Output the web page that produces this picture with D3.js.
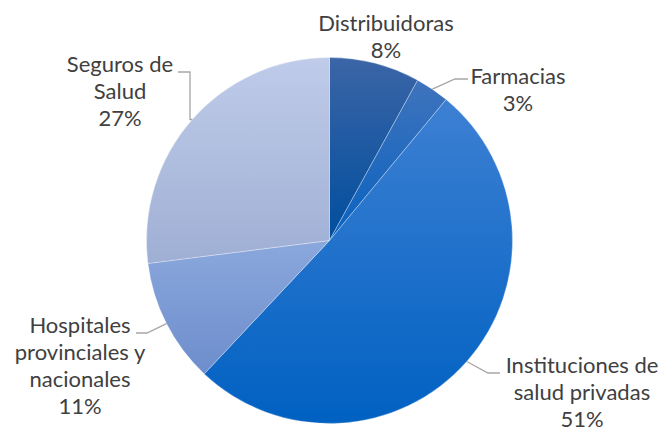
<!DOCTYPE html>
<html>
<head>
<meta charset="utf-8">
<script src="https://cdn.jsdelivr.net/npm/d3@7"></script>
<style>
html,body{margin:0;padding:0;background:#fff;}
svg{display:block;}
text{font-family:Lato,"Open Sans",sans-serif;fill:#404040;}
</style>
</head>
<body>
<svg id="chart" width="664" height="430"></svg>
<script>
// ---- data ----
const categories = ["Distribuidoras", "Farmacias", "Instituciones de salud privadas", "Hospitales provinciales y nacionales", "Seguros de Salud"];
const values = [8, 3, 51, 11, 27];
const labelLines = [
  ["Distribuidoras", "8%"],
  ["Farmacias", "3%"],
  ["Instituciones de", "salud privadas", "51%"],
  ["Hospitales", "provinciales y", "nacionales", "11%"],
  ["Seguros de", "Salud", "27%"]
];

// ---- style / layout ----
const colorsTop = ["#3b65a6", "#3f73bc", "#3d80d3", "#8ba8dd", "#bfcbe9"];
const colorsBottom = ["#004e9e", "#0862c0", "#0061c2", "#6d8dcc", "#9fafd4"];
const cx = 329.5, cy = 240.5, R = 183;
const fontSize = 22, lineH = 27;
// label block: centre x, first baseline y ; leader: elbow point and end point (null = no leader)
const labelLayout = [
  {x: 386, y: 31, leader: null},
  {x: 518, y: 84, leader: {ex: 455, ey: 79, tx: 468}},
  {x: 582, y: 373, leader: {ex: 488, ey: 373, tx: 500}},
  {x: 80, y: 333, leader: {ex: 147, ey: 333, tx: 136}},
  {x: 120, y: 72, leader: {ex: 190, ey: 72, tx: 178, vertical: true}}
];

const svg = d3.select("#chart");
const defs = svg.append("defs");
categories.forEach((c, i) => {
  const g = defs.append("linearGradient").attr("id", "grad" + i)
    .attr("x1", 0).attr("y1", 0).attr("x2", 0).attr("y2", 1);
  g.append("stop").attr("offset", "0%").attr("stop-color", colorsTop[i]);
  g.append("stop").attr("offset", "100%").attr("stop-color", colorsBottom[i]);
});

const pie = d3.pie().sort(null).value(d => d)(values);
const arc = d3.arc().innerRadius(0).outerRadius(R);
const edge = d3.arc().innerRadius(R).outerRadius(R);

const gPie = svg.append("g").attr("transform", `translate(${cx},${cy})`);
gPie.selectAll("path").data(pie).join("path")
  .attr("d", arc)
  .attr("fill", (d, i) => `url(#grad${i})`)
  .attr("stroke", "rgba(255,255,255,0.5)")
  .attr("stroke-width", 0.6);

// leaders
pie.forEach((d, i) => {
  const L = labelLayout[i];
  if (!L.leader) return;
  const [px, py] = edge.centroid(d);
  const sx = cx + px, sy = cy + py;
  let pts;
  if (L.leader.vertical) {
    pts = [[L.leader.tx, L.leader.ey], [L.leader.ex, L.leader.ey], [L.leader.ex, sy], [sx, sy]];
  } else {
    pts = [[sx, sy], [L.leader.ex, L.leader.ey], [L.leader.tx, L.leader.ey]];
  }
  svg.append("path")
    .attr("d", d3.line()(pts))
    .attr("fill", "none")
    .attr("stroke", "#a6a6a6")
    .attr("stroke-width", 1.3);
});

// labels
labelLines.forEach((lines, i) => {
  const L = labelLayout[i];
  const t = svg.append("text")
    .attr("text-anchor", "middle")
    .attr("font-size", fontSize);
  lines.forEach((ln, k) => {
    t.append("tspan").attr("x", L.x).attr("y", L.y + k * lineH).text(ln);
  });
});
</script>
</body>
</html>
